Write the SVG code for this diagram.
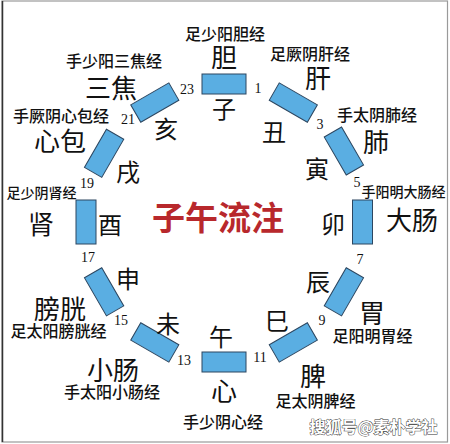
<svg xmlns="http://www.w3.org/2000/svg" width="450" height="444" viewBox="0 0 450 444">
<style>
  .bg { fill: #ffffff; }
  .frame { fill: none; stroke: #9a9a9a; stroke-width: 1.2; }
  .seg { fill: #5aaee2; stroke: #2c4660; stroke-width: 1; }
  .num { font-family: "Liberation Serif", serif; font-size: 14px; fill: #111; text-anchor: middle; dominant-baseline: central; }
  .br { font-family: "Noto Sans CJK SC", sans-serif; font-size: 24px; fill: #111; text-anchor: middle; dominant-baseline: central; }
  .org { font-family: "Noto Sans CJK SC", sans-serif; font-size: 26px; fill: #111; text-anchor: middle; dominant-baseline: central; }
  .mer { font-family: "Noto Sans CJK SC", sans-serif; font-size: 16px; font-weight: 500; fill: #111; text-anchor: middle; dominant-baseline: central; }
  .mer-s { font-size: 14px; }
  .title { font-family: "Noto Sans CJK SC", sans-serif; font-size: 33px; font-weight: bold; fill: #b8282c; text-anchor: middle; dominant-baseline: central; }
  .wm { font-family: "Noto Sans CJK SC", sans-serif; font-size: 16px; font-weight: bold; fill: #ffffff; stroke: #333; stroke-width: 0.9; paint-order: stroke; text-anchor: middle; dominant-baseline: central; }
</style>
<defs>
  <rect id="seg" class="seg" x="-22" y="-10" width="44" height="20"/>
</defs>
<rect class="bg" x="0" y="0" width="450" height="444"/>
<rect class="frame" x="2" y="1" width="445.5" height="441"/>
<line x1="2.5" y1="1" x2="2.5" y2="442" stroke="#333" stroke-width="1.5"/>

<g id="connectors"/>

<g id="node-zi">
  <use href="#seg" transform="translate(224,84) rotate(0)"/>
  <text class="br" x="224" y="107">子</text>
  <text class="org" x="224" y="55">胆</text>
  <text class="mer" x="225" y="33">足少阳胆经</text>
</g>
<g id="node-chou">
  <use href="#seg" transform="translate(293.3,102.6) rotate(30)"/>
  <text class="br" x="274" y="130">丑</text>
  <text class="org" x="318" y="76">肝</text>
  <text class="mer" x="310" y="53">足厥阴肝经</text>
</g>
<g id="node-yin">
  <use href="#seg" transform="translate(343.9,151) rotate(60)"/>
  <text class="br" x="317" y="167">寅</text>
  <text class="org" x="376" y="140">肺</text>
  <text class="mer" x="377" y="113.5">手太阴肺经</text>
</g>
<g id="node-mao">
  <use href="#seg" transform="translate(362.5,222) rotate(90)"/>
  <text class="br" x="333" y="222">卯</text>
  <text class="org" x="412" y="218">大肠</text>
  <text class="mer mer-s" x="403.5" y="191">手阳明大肠经</text>
</g>
<g id="node-chen">
  <use href="#seg" transform="translate(343.9,291.8) rotate(120)"/>
  <text class="br" x="318" y="280">辰</text>
  <text class="org" x="372" y="311">胃</text>
  <text class="mer" x="372.5" y="335">足阳明胃经</text>
</g>
<g id="node-si">
  <use href="#seg" transform="translate(293.3,342.4) rotate(150)"/>
  <text class="br" x="277" y="319">巳</text>
  <text class="org" x="313" y="374">脾</text>
  <text class="mer" x="315.5" y="400">足太阴脾经</text>
</g>
<g id="node-wu">
  <use href="#seg" transform="translate(224,362) rotate(0)"/>
  <text class="br" x="221" y="335">午</text>
  <text class="org" x="224" y="389">心</text>
  <text class="mer" x="223" y="421">手少阴心经</text>
</g>
<g id="node-wei">
  <use href="#seg" transform="translate(154.8,342.4) rotate(30)"/>
  <text class="br" x="168" y="322">未</text>
  <text class="org" x="113" y="368">小肠</text>
  <text class="mer" x="112" y="390.5">手太阳小肠经</text>
</g>
<g id="node-shen">
  <use href="#seg" transform="translate(104.1,291.8) rotate(60)"/>
  <text class="br" x="128" y="277">申</text>
  <text class="org" x="60" y="307">膀胱</text>
  <text class="mer" x="58.5" y="329.5">足太阳膀胱经</text>
</g>
<g id="node-you">
  <use href="#seg" transform="translate(86,222) rotate(90)"/>
  <text class="br" x="110" y="223">酉</text>
  <text class="org" x="41" y="222">肾</text>
  <text class="mer mer-s" x="41.5" y="192">足少阴肾经</text>
</g>
<g id="node-xu">
  <use href="#seg" transform="translate(104.1,153.3) rotate(120)"/>
  <text class="br" x="128" y="170">戌</text>
  <text class="org" x="60" y="139">心包</text>
  <text class="mer" x="61" y="115">手厥阴心包经</text>
</g>
<g id="node-hai">
  <use href="#seg" transform="translate(154.8,102.6) rotate(150)"/>
  <text class="br" x="166" y="127">亥</text>
  <text class="org" x="111" y="86">三焦</text>
  <text class="mer" x="114" y="59.5">手少阳三焦经</text>
</g>

<g id="hours">
  <text class="num" x="258" y="88">1</text>
  <text class="num" x="320" y="124">3</text>
  <text class="num" x="357" y="182">5</text>
  <text class="num" x="360" y="259">7</text>
  <text class="num" x="322" y="320">9</text>
  <text class="num" x="260" y="357">11</text>
  <text class="num" x="184" y="360">13</text>
  <text class="num" x="121" y="320">15</text>
  <text class="num" x="88" y="257">17</text>
  <text class="num" x="87" y="183">19</text>
  <text class="num" x="128" y="119">21</text>
  <text class="num" x="187" y="89">23</text>
</g>

<g id="title">
  <text class="title" x="218" y="216">子午流注</text>
</g>
<text class="wm" x="373.5" y="425.5">搜狐号@素朴学社</text>
</svg>
